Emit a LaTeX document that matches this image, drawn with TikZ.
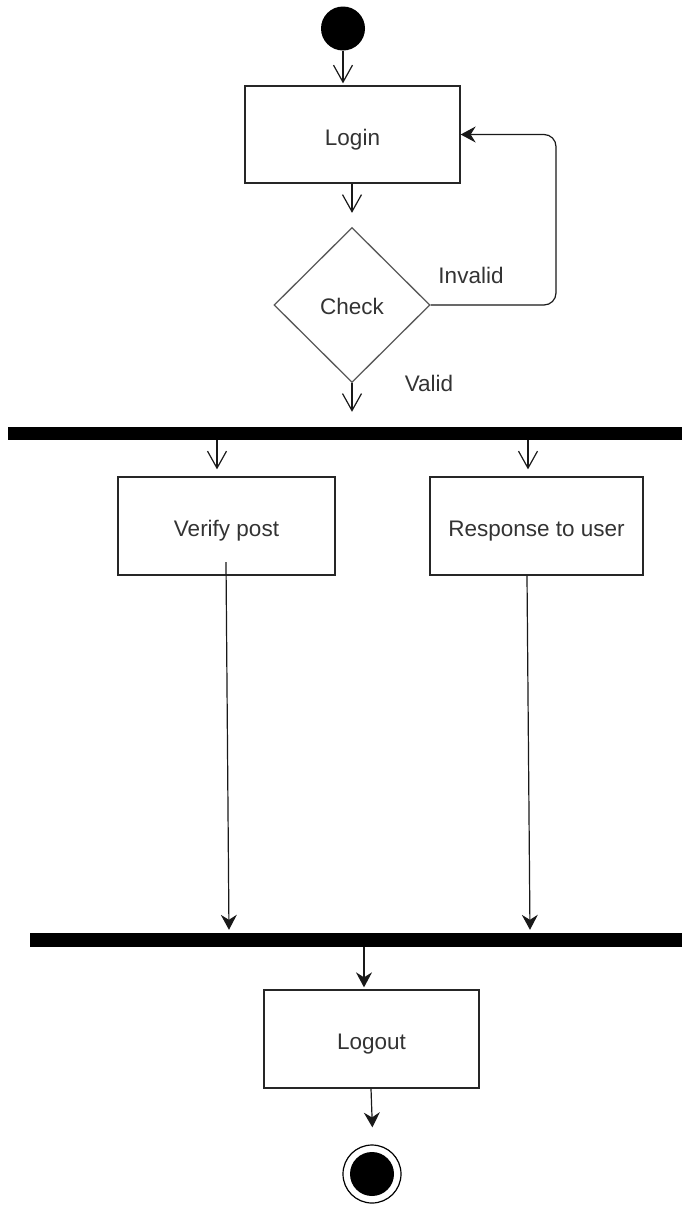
\documentclass[tikz,border=0pt]{standalone}
\usepackage{fontspec}
\setmainfont{Liberation Sans}
\usetikzlibrary{arrows.meta,shapes.geometric}
\begin{document}
\begin{tikzpicture}[x=1pt,y=-1pt,
  font=\fontsize{22.5}{26}\selectfont, text=black!80,
  action/.style={draw=black!85, line width=1.3pt, inner sep=0pt, minimum height=98,
    text height=21pt, text depth=0pt},
  decision/.style={diamond, draw=black!65, line width=1.3pt, inner sep=0pt,
    minimum width=156, minimum height=155, text height=18pt, text depth=0pt},
  syncbar/.style={fill=black, inner sep=0pt},
  openarr/.style={-{Straight Barb[length=17pt,width=19pt]}, line width=1.2pt, draw=black!90},
  filledarr/.style={-{Stealth[length=15pt,width=16pt,inset=5pt]}, line width=1.2pt, draw=black!90},
  lbl/.style={inner sep=0pt}]
\useasboundingbox (0,0) rectangle (682,1205);

% initial and final states
\node[circle, fill=black, minimum size=44, inner sep=0pt] (start) at (343,28.5) {};
\node[circle, draw=black, line width=1.2pt, minimum size=58, inner sep=0pt,
  path picture={\fill[black] (path picture bounding box.center) circle (22pt);}] (end) at (372,1174) {};

% actions
\node[action, minimum width=215, minimum height=97] (login) at (352.5,134.5) {Login};
\node[decision] (check) at (352,305) {Check};
\node[action, minimum width=217] (verify) at (226.5,526) {Verify post};
\node[action, minimum width=213] (response) at (536.5,526) {Response to user};
\node[action, minimum width=215] (logout) at (371.5,1039) {Logout};

% fork / join bars
\node[syncbar, minimum width=674, minimum height=13] (fork) at (345,433.5) {};
\node[syncbar, minimum width=652, minimum height=14] (join) at (356,940) {};

% guard labels
\node[lbl] (invalid) at (471,275) {Invalid};
\node[lbl] (valid) at (429,383) {Valid};

% helper columns for the vertical flows
\coordinate (loop) at (556,220);
\coordinate (fa) at (217,0);
\coordinate (fb) at (528,0);
\coordinate (v1) at (226,562);
\coordinate (v2) at (229,0);
\coordinate (r1) at (527,0);
\coordinate (r2) at (530,0);
\coordinate (j1) at (364,0);
\coordinate (e1) at (371,0);

% flow
\draw[openarr, shorten >=2pt] (start) -- (start |- login.north);
\draw[openarr, shorten >=14pt] (login.south -| check.north) -- (check.north);
\draw[filledarr, rounded corners=12pt] (check.east) -- (check.east -| loop)
  -- (loop |- login.east) -- (login.east);
\draw[openarr, shorten >=15pt] (check.south) -- (check.south |- fork.north);
\draw[openarr, shorten >=7pt] (fork.south -| fa) -- (verify.north -| fa);
\draw[openarr, shorten >=7pt] (fork.south -| fb) -- (response.north -| fb);
\draw[filledarr, shorten >=3pt] (v1) -- (join.north -| v2);
\draw[filledarr, shorten >=3pt] (response.south -| r1) -- (join.north -| r2);
\draw[filledarr, shorten >=2pt] (join.south -| j1) -- (logout.north -| j1);
\draw[filledarr, shorten >=17pt] (logout.south -| e1) -- ([xshift=1pt]end.north);
\end{tikzpicture}
\end{document}
